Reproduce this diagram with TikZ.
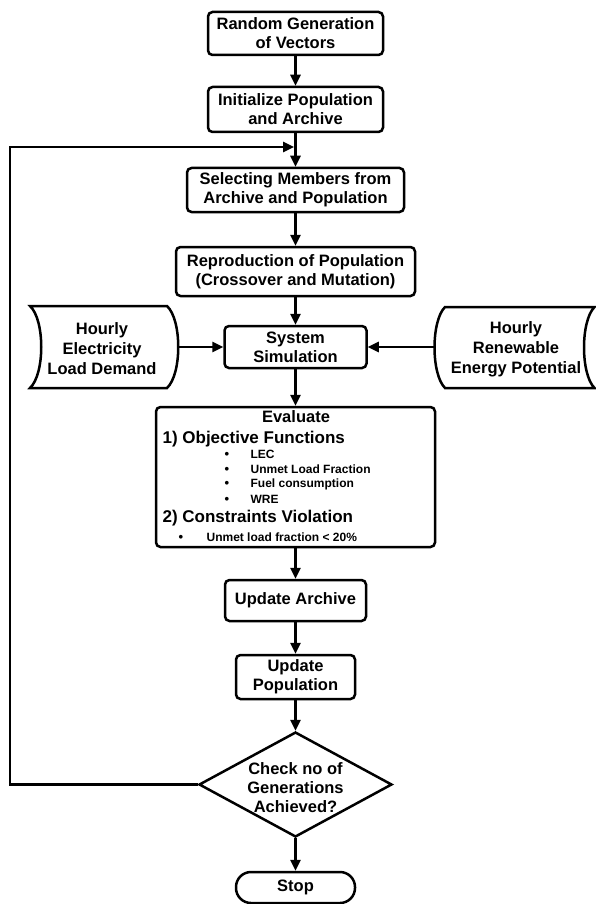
\documentclass[tikz,border=0pt]{standalone}
\usepackage{fontspec}
\setmainfont{Liberation Sans}
\usetikzlibrary{arrows.meta,shapes.geometric}
\begin{document}
\begin{tikzpicture}[x=1pt,y=-1pt,
  line width=2.5pt,
  every node/.style={font=\bfseries\fontsize{16.5}{19}\selectfont},
  flow/.style={draw, rounded corners=4.5pt, align=center, inner sep=0pt},
  arr/.style={-{Triangle[length=11pt,width=10pt]}},
  store/.style={line join=miter},
  storetext/.style={align=center, font=\bfseries\fontsize{16.5}{20}\selectfont},
  head/.style={anchor=base west, font=\bfseries\fontsize{17}{19}\selectfont},
  item/.style={anchor=base west, font=\bfseries\fontsize{12}{14}\selectfont},
  dot/.style={anchor=base, font=\bfseries\fontsize{13}{14}\selectfont}]
\useasboundingbox (0,0) rectangle (596,904);

% main process boxes
\node[flow, minimum width=175pt, minimum height=43pt] (gen) at (295.5,33.5) {Random Generation\\of Vectors};
\node[flow, minimum width=175pt, minimum height=45pt] (init) at (295.5,109.5) {Initialize Population\\and Archive};
\node[flow, minimum width=217pt, minimum height=44pt] (sel) at (295.5,190) {Selecting Members from\\Archive and Population};
\node[flow, minimum width=239pt, minimum height=49pt] (rep) at (295.5,271.5) {Reproduction of Population\\(Crossover and Mutation)};
\node[flow, minimum width=142pt, minimum height=42pt] (sim) at (295.5,347) {System\\Simulation};
\node[flow, minimum width=279pt, minimum height=140pt] (eval) at (295.5,477) {};
\node[flow, minimum width=141pt, minimum height=41pt] (upa) at (295.5,600.5) {Update Archive};
\node[flow, minimum width=119pt, minimum height=44pt] (upp) at (295.5,677) {Update\\Population};
\node[draw, diamond, minimum width=193pt, minimum height=105pt, inner sep=0pt] (chk) at (295.5,784.5) {};
\node[align=center] (chktext) at (295.5,788) {Check no of\\Generations\\Achieved?};
\node[flow, rounded corners=15pt, minimum width=119pt, minimum height=31pt] (stop) at (295.5,887.5) {Stop};

% contents of the evaluation box
\node[anchor=base] (evtitle) at (296,422) {Evaluate};
\node[head] (obj) at (158,443) {1) Objective Functions};
\node[dot] (b1) at (227,458) {\textbullet};
\node[item] (lec) at (246,458) {LEC};
\node[dot] (b2) at (227,473) {\textbullet};
\node[item] (ulf) at (246,473) {Unmet Load Fraction};
\node[dot] (b3) at (227,487.5) {\textbullet};
\node[item] (fuel) at (246,487.5) {Fuel consumption};
\node[dot] (b4) at (227,503) {\textbullet};
\node[item] (wre) at (246,503) {WRE};
\node[head] (con) at (158,522) {2) Constraints Violation};
\node[dot] (b5) at (181,541) {\textbullet};
\node[item] (lim) at (202,541) {Unmet load fraction < 20\%};

% input data stores
\draw[store] (30,306) -- (167,306) .. controls (182,320) and (182,374) .. (167,388)
  -- (30,388) .. controls (45,374) and (45,320) .. (30,306) -- cycle;
\node[storetext] (load) at (102,349) {Hourly\\Electricity\\Load Demand};
\coordinate (loadR) at (178.25,347);

\draw[store] (445,307) -- (594.5,307) .. controls (580.5,321) and (580.5,374) .. (594.5,388)
  -- (445,388) .. controls (431,374) and (431,321) .. (445,307) -- cycle;
\node[storetext] (ren) at (516,349) {Hourly\\Renewable\\Energy Potential};
\coordinate (renL) at (434.5,347);

% connectors
\draw[arr] (gen) -- (init);
\draw[arr] (init) -- (sel);
\draw[arr] (sel) -- (rep);
\draw[arr] (rep) -- (sim);
\draw[arr] (sim) -- (eval);
\draw[arr] (eval) -- (upa);
\draw[arr] (upa) -- (upp);
\draw[arr] (upp) -- (chk);
\draw[arr] (chk) -- (stop);
\draw[arr] (loadR) -- (sim.west);
\draw[arr] (renL) -- (sim.east);

% loop back to the selection step
\coordinate (back) at (10,147);
\coordinate (join) at (294,147);
\draw[arr] (chk.west) -| (back) -- (join);
\end{tikzpicture}
\end{document}
